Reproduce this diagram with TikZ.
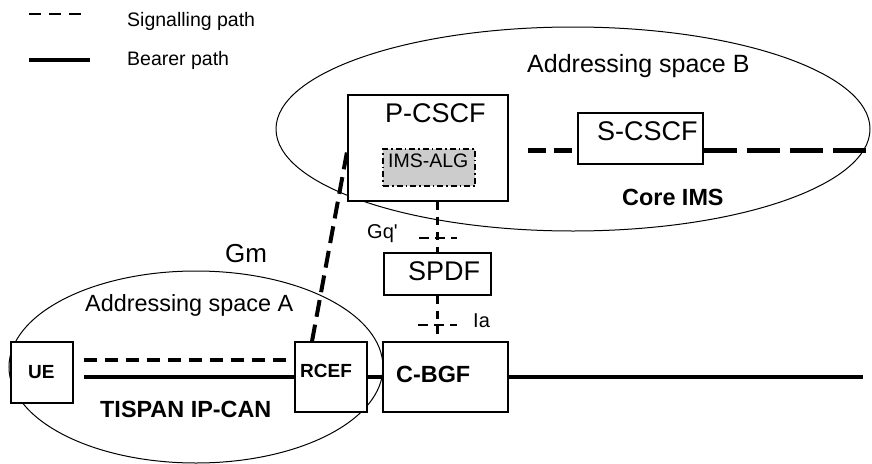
\documentclass[tikz,border=0pt]{standalone}
\usepackage{fontspec}
\setmainfont{Liberation Sans}
\newcommand{\setfs}[1]{\fontsize{#1}{#1}\selectfont}
\tikzset{
  box/.style={draw, line width=1.3pt, fill=white, inner sep=0pt},
  sig/.style={line width=4pt, dash pattern=on 13pt off 8pt},
  bearer/.style={line width=4.5pt},
  ifc/.style={line width=3pt, dash pattern=on 8pt off 7pt},
  txt/.style={anchor=base west, inner sep=0pt},
}

\begin{document}
\begin{tikzpicture}[x=1pt, y=-1pt]
  \useasboundingbox (0,0) rectangle (872,463);

  % legend
  \coordinate (lsa) at (29,14);
  \coordinate (lsb) at (83,14);
  \coordinate (lba) at (29,60);
  \coordinate (lbb) at (90,60);
  \draw [line width=1.5pt, dash pattern=on 12pt off 8pt] (lsa) -- (lsb);
  \draw [bearer] (lba) -- (lbb);
  \node [txt, font=\setfs{19.5}] (lsig) at (127,27) {Signalling path};
  \node [txt, font=\setfs{19.5}] (lbear) at (127,65) {Bearer path};

  % addressing spaces
  \draw [line width=1pt] (573,129) ellipse [x radius=297pt, y radius=102pt];
  \draw [line width=1pt] (196,367) ellipse [x radius=187pt, y radius=96pt];
  \node [txt, font=\setfs{25}] (spb) at (527,72) {Addressing space B};
  \node [txt, font=\setfs{23.4}] (spa) at (85,311) {Addressing space A};
  \node [txt, font=\setfs{23.4}\bfseries] (core) at (622,205) {Core IMS};
  \node [txt, font=\setfs{23.4}\bfseries] (ipcan) at (100,417) {TISPAN IP-CAN};

  % boxes
  \node [box, minimum width=62pt, minimum height=61pt] (ue) at (42,372.5) {};
  \node [box, minimum width=72pt, minimum height=70pt] (rcef) at (331,377) {};
  \node [box, minimum width=125pt, minimum height=70pt] (cbgf) at (445.5,377) {};
  \node [box, minimum width=160pt, minimum height=106pt] (pcscf) at (428,148) {};
  \node [box, fill=black!20, line width=1.5pt, dash pattern=on 6pt off 3pt on 1.5pt off 3pt,
         minimum width=92pt, minimum height=37pt] (alg) at (429,167.5) {};
  \node [box, minimum width=125pt, minimum height=51pt] (scscf) at (640.5,138.5) {};
  \node [box, minimum width=107pt, minimum height=42pt] (spdf) at (437.5,274) {};

  \node [txt, font=\setfs{19}\bfseries] (uet) at (28,378) {UE};
  \node [txt, font=\setfs{19}\bfseries] (rceft) at (300,377) {RCEF};
  \node [txt, font=\setfs{23.4}\bfseries] (cbgft) at (396,382) {C-BGF};
  \node [txt, font=\setfs{27}] (pcscft) at (385,122) {P-CSCF};
  \node [txt, font=\setfs{19.5}] (algt) at (388,167) {IMS-ALG};
  \node [txt, font=\setfs{27}] (scscft) at (597,140) {S-CSCF};
  \node [txt, font=\setfs{27}] (spdft) at (408,280) {SPDF};

  % signalling
  \draw [sig] ([xshift=10pt, yshift=12.5pt]ue.east) -- ([yshift=12.5pt]ue.east -| rcef.west);
  \draw [sig, dash pattern=on 17pt off 8pt] ([xshift=-19pt]rcef.north) -- ([yshift=-2pt]pcscf.west);
  \draw [sig, line width=5pt, dash pattern=on 18pt off 8pt, dash phase=18pt]
    ([xshift=11pt, yshift=-2pt]pcscf.east) -- ([yshift=-2pt]pcscf.east -| scscf.west);
  \coordinate (send) at (866,150);
  \draw [sig, line width=5pt, dash pattern=on 33pt off 10pt] (scscf.east |- send) -- (send);

  % bearer
  \draw [bearer] ([xshift=10pt]ue.east |- rcef.west) -- (rcef.west);
  \draw [bearer] (rcef.east) -- (cbgf.west);
  \coordinate (bend) at (863,377);
  \draw [bearer] (cbgf.east) -- (bend);

  % Gq' and Ia
  \draw [ifc] (pcscf.south -| spdf.north) -- (spdf.north);
  \draw [ifc] (spdf.south) -- (cbgf.north -| spdf.south);
  \coordinate (gqa) at (419,238);
  \coordinate (gqb) at (457,238);
  \coordinate (iaa) at (418,325);
  \coordinate (iab) at (457,325);
  \draw [ifc, line width=2.5pt, dash pattern=on 10pt off 6pt] (gqa) -- (gqb);
  \draw [ifc, line width=2.5pt, dash pattern=on 10pt off 6pt] (iaa) -- (iab);
  \node [txt, font=\setfs{20}] (gq) at (367,238) {Gq\textquotesingle};
  \node [txt, font=\setfs{20}] (ia) at (473,327) {Ia};
  \node [txt, font=\setfs{26}] (gm) at (225,262) {Gm};
\end{tikzpicture}
\end{document}
